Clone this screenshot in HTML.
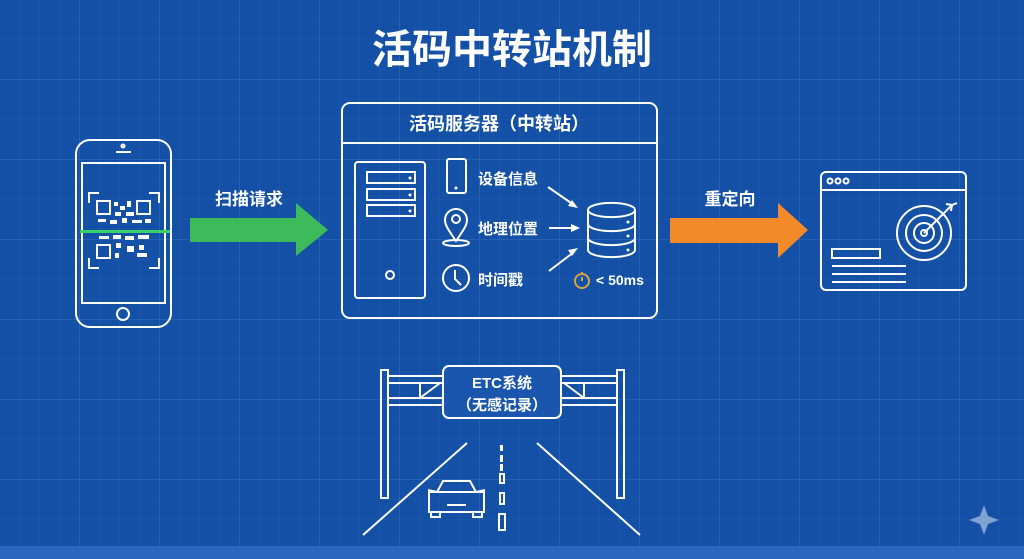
<!DOCTYPE html>
<html><head><meta charset="utf-8"><style>
html,body{margin:0;padding:0;width:1024px;height:559px;overflow:hidden;background:#1450a6}
text{font-family:"Liberation Sans","Noto Sans CJK SC",sans-serif;fill:#fff;font-weight:bold}
</style></head><body>
<svg width="1024" height="559" viewBox="0 0 1024 559" xmlns="http://www.w3.org/2000/svg">
<defs>
<pattern id="g" width="20" height="20" patternUnits="userSpaceOnUse"><path d="M20 0V20H0" fill="none" stroke="#3a70c0" stroke-width="0.6" opacity="0.6"/></pattern>
<pattern id="G" width="80" height="80" patternUnits="userSpaceOnUse"><path d="M80 0V80H0" fill="none" stroke="#4a80cc" stroke-width="1" opacity="0.6"/></pattern>
</defs>
<rect width="1024" height="559" fill="#1450a6"/>
<rect width="1024" height="559" fill="url(#g)"/>
<rect width="1024" height="559" fill="url(#G)"/>
<rect y="546" width="1024" height="13" fill="#2a68c0"/>
<text x="512" y="63" font-size="40" text-anchor="middle">活码中转站机制</text>
<g fill="none" stroke="#fff" stroke-width="2">
<rect x="76" y="140" width="95" height="187" rx="14"/>
<rect x="82" y="163" width="83" height="140"/>
<circle cx="123" cy="146" r="1.5"/><line x1="116" y1="152" x2="131" y2="152"/>
<circle cx="123" cy="314" r="6"/>
<path d="M89 203V193H99M149 193H159V203M89 258V268H99M149 268H159V258"/>
<rect x="97" y="201" width="13" height="13"/><rect x="137" y="201" width="13" height="13"/><rect x="97" y="245" width="13" height="13"/>
</g>
<g fill="#fff"><rect x="114" y="202" width="4" height="4"/><rect x="120" y="206" width="5" height="4"/><rect x="127" y="201" width="4" height="6"/><rect x="115" y="212" width="6" height="4"/><rect x="126" y="212" width="8" height="4"/><rect x="98" y="219" width="8" height="3"/><rect x="110" y="220" width="7" height="4"/><rect x="122" y="218" width="5" height="5"/><rect x="132" y="220" width="10" height="3"/><rect x="145" y="219" width="6" height="4"/><rect x="99" y="236" width="10" height="3"/><rect x="113" y="235" width="8" height="4"/><rect x="125" y="236" width="9" height="4"/><rect x="138" y="235" width="11" height="4"/><rect x="116" y="243" width="5" height="5"/><rect x="127" y="246" width="7" height="6"/><rect x="139" y="245" width="5" height="5"/><rect x="115" y="253" width="4" height="5"/><rect x="137" y="253" width="10" height="4"/></g>
<rect x="80" y="230" width="90" height="3" fill="#3ad06a"/>
<path d="M190 218H296V203L328 230L296 256V242H190Z" fill="#3dbb5a"/>
<text x="249" y="205" font-size="17" text-anchor="middle">扫描请求</text>
<g fill="none" stroke="#fff" stroke-width="2">
<rect x="342" y="103" width="315" height="215" rx="8"/>
<line x1="342" y1="143" x2="657" y2="143"/>
<rect x="355" y="162" width="70" height="136" rx="3"/>
<rect x="367" y="172" width="48" height="11"/><rect x="367" y="189" width="48" height="11"/><rect x="367" y="205" width="48" height="11"/>
<circle cx="390" cy="275" r="4"/>
<rect x="447" y="159" width="19" height="34" rx="2"/>
<path d="M456 241C450 232 445 226 445 220A11 11 0 0 1 467 220C467 226 462 232 456 241Z"/><circle cx="456" cy="219" r="4"/>
<ellipse cx="456" cy="243" rx="13" ry="3"/>
<circle cx="456" cy="278" r="13"/><path d="M455 270V279L461 285"/>
<path d="M588 210A23 7 0 0 0 635 210A23 7 0 0 0 588 210V250A23 7 0 0 0 635 250V210M588 224A23 7 0 0 0 635 224M588 238A23 7 0 0 0 635 238"/>
<line x1="548" y1="187" x2="574" y2="205"/><line x1="549" y1="228" x2="574" y2="228"/><line x1="549" y1="271" x2="574" y2="252"/>
</g>
<g fill="#fff"><circle cx="410" cy="178" r="1.5"/><circle cx="410" cy="195" r="1.5"/><circle cx="410" cy="211" r="1.5"/><circle cx="456" cy="188" r="1.5"/><circle cx="628" cy="222" r="1.5"/><circle cx="628" cy="236" r="1.5"/><circle cx="628" cy="250" r="1.5"/>
<path d="M578 208L568 206L572 200Z"/><path d="M580 228L571 224V232Z"/><path d="M578 248L572 256L568 250Z"/></g>
<g fill="none" stroke="#d4a545" stroke-width="2"><circle cx="582" cy="281" r="7"/><line x1="582" y1="272" x2="582" y2="274"/><path d="M582 277V281"/></g>
<text x="499" y="130" font-size="18" text-anchor="middle">活码服务器（中转站）</text>
<text x="478" y="184" font-size="15">设备信息</text>
<text x="478" y="234" font-size="15">地理位置</text>
<text x="478" y="285" font-size="15">时间戳</text>
<text x="596" y="285" font-size="14">&lt; 50ms</text>
<path d="M670 218H778V203L808 230L778 258V243H670Z" fill="#f28a2a"/>
<text x="730" y="205" font-size="17" text-anchor="middle">重定向</text>
<g fill="none" stroke="#fff" stroke-width="2">
<rect x="821" y="172" width="145" height="118" rx="5"/>
<line x1="821" y1="190" x2="966" y2="190"/>
<circle cx="830" cy="181" r="2.5"/><circle cx="838" cy="181" r="2.5"/><circle cx="846" cy="181" r="2.5"/>
<circle cx="924" cy="233" r="27"/><circle cx="924" cy="233" r="18"/><circle cx="924" cy="233" r="10"/><circle cx="924" cy="233" r="3"/>
<path d="M924 233L952 205M946 204L952 205L951 211M952 205L957 203"/>
<rect x="832" y="249" width="48" height="9"/>
<line x1="832" y1="266" x2="906" y2="266"/><line x1="832" y1="274" x2="906" y2="274"/><line x1="832" y1="282" x2="906" y2="282"/>
</g>
<g fill="none" stroke="#fff" stroke-width="2">
<rect x="381" y="370" width="7" height="128"/><rect x="617" y="370" width="7" height="128"/>
<path d="M388 376H443M388 383H443M388 398H443M388 405H443M420 383V398M420 398L440 383"/>
<path d="M561 376H617M561 383H617M561 398H617M561 405H617M584 383V398M584 398L564 383"/>
<rect x="443" y="366" width="118" height="52" rx="6" fill="#1a56ad"/>
<line x1="467" y1="443" x2="363" y2="535"/><line x1="537" y1="443" x2="640" y2="535"/>
<path d="M437 492L443 481H470L476 492M429 492H484V512H429ZM431 512V517H440V512M473 512V517H482V512M447 505H466M428 490L437 492M485 490L476 492"/>
<rect x="500" y="474" width="4" height="9"/><rect x="500" y="493" width="4" height="11"/><rect x="499" y="514" width="6" height="16"/>
</g>
<g fill="#fff"><rect x="500" y="445" width="3" height="6"/><rect x="500" y="455" width="3" height="7"/><rect x="500" y="464" width="3" height="7"/></g>
<text x="502" y="388" font-size="15" text-anchor="middle">ETC系统</text>
<text x="502" y="410" font-size="15" text-anchor="middle">（无感记录）</text>
<path d="M984 505L988 516L999 520L988 524L984 535L980 524L969 520L980 516Z" fill="#9ab8e0" opacity="0.8"/>
</svg>
</body></html>
